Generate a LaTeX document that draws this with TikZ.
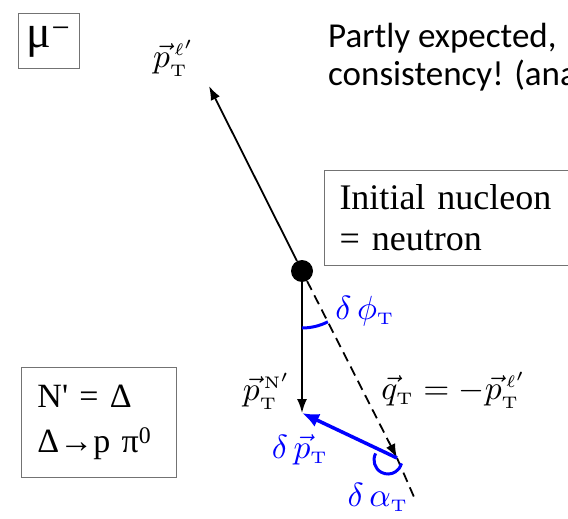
\documentclass[tikz,border=0pt]{standalone}
\usepackage{amsmath}
\usepackage{graphicx}
\usepackage{fontspec}
\newfontfamily\calibri{Carlito}
\newfontfamily\timesf{Liberation Serif}[Ligatures=TeXOff]
\DeclareMathSizes{10}{10}{5}{5}
\newcommand{\mscale}[1]{\scalebox{3.35}{#1}}
\newcommand{\bscale}[1]{\scalebox{3.35}{#1}}
\usepackage{tikz}
\usetikzlibrary{arrows.meta,positioning,calc}

\begin{document}
\begin{tikzpicture}[x=1pt,y=-1pt,
  box/.style={draw=black!55, line width=1pt, align=left, font=\timesf\fontsize{36}{41}\selectfont},
  vtx/.style={circle, fill=black, inner sep=0pt, minimum size=22pt},
  mlbl/.style={font=\fontsize{10}{12}\selectfont},
  blbl/.style={text=blue, font=\fontsize{10}{12}\selectfont},
  arr/.style={line width=1.8pt, -{Latex[length=14pt,width=10pt]}},
  barr/.style={blue, line width=3.5pt, -{Latex[length=17pt,width=14pt]}},
  angarc/.style={blue, line width=3pt}]
\useasboundingbox (0,0) rectangle (568,519);
\clip (0,0) rectangle (568,519);

% boxes
\node[box, font=\timesf\fontsize{46}{50}\selectfont, minimum width=61pt, minimum height=55pt, inner sep=0pt] (mu) at (48.5,41.5) {μ\textsuperscript{−}};
\node[box, anchor=north west, text width=270pt, inner xsep=15pt, minimum height=95pt] (init) at (324,170) {Initial nucleon\\= neutron};
\node[box, anchor=north west, text width=123pt, inner xsep=16pt, minimum height=110pt, font=\timesf\fontsize{34}{45}\selectfont] (delta) at (21,367) {N' = Δ\\Δ→p π\textsuperscript{0}};

% remark, cut off by the frame
\node[anchor=base west, align=left, inner sep=0pt, font=\calibri\fontsize{35}{38}\selectfont] (note) at (328,85) {Partly expected,\\consistency! (ana};

% vertex and momenta
\node[vtx] (V) at (302,271) {};
\coordinate (Ltip) at (209,86);
\coordinate (Ntip) at (302,413);
\coordinate (Qend) at (397,458);
\coordinate (Qext) at (414,497);
\draw[arr] (V) -- (Ltip);
\draw[arr] (V) -- (Ntip);
\draw[arr, dash pattern=on 10pt off 6pt] (V) -- (Qend);
\draw[line width=1.8pt, dash pattern=on 10pt off 6pt] (Qend) -- (Qext);
\draw[barr] (Qend) -- (Ntip);

% angles
\draw[angarc] (V) ++(90:57) arc[start angle=90, end angle=63, radius=57];
\draw[angarc] ($(Qend)+(-9,2)$) ++(208:14) arc[start angle=208, end angle=14, radius=14];

% labels
\node[mlbl] (lpl) at (174,58) {\mscale{${\vec p}_{\mathrm{T}}^{\,\ell'}$}};
\node[mlbl] (lpN) at (267,391) {\mscale{${\vec p}_{\mathrm{T}}^{\,\mathrm{N}'}$}};
\node[mlbl] (lq) at (454,390) {\mscale{${\vec q}_{\mathrm{T}} = -{\vec p}_{\mathrm{T}}^{\,\ell'}$}};
\node[blbl] (ldphi) at (365,311) {\bscale{$\delta\,\phi_{\mathrm{T}}$}};
\node[blbl] (ldp) at (300,450) {\bscale{$\delta\,{\vec p}_{\mathrm{T}}$}};
\node[blbl] (ldalpha) at (378,497) {\bscale{$\delta\,\alpha_{\mathrm{T}}$}};
\end{tikzpicture}
\end{document}
